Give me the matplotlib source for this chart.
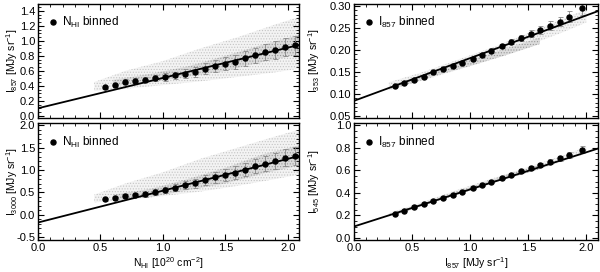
import numpy as np
import matplotlib
matplotlib.use('Agg')
import matplotlib.pyplot as plt
from matplotlib.ticker import MultipleLocator

plt.rcParams['font.family'] = ['Liberation Sans', 'DejaVu Sans']
plt.rcParams['font.size'] = 7
plt.rcParams['mathtext.fontset'] = 'custom'
plt.rcParams['mathtext.rm'] = 'Liberation Sans'
plt.rcParams['mathtext.it'] = 'Liberation Sans'
plt.rcParams['hatch.linewidth'] = 0.5

# --- binned points, N_HI panels ---
nh_bins = [0.54, 0.62, 0.70, 0.78, 0.86, 0.94, 1.02, 1.10, 1.18, 1.26,
           1.34, 1.42, 1.50, 1.58, 1.66, 1.74, 1.82, 1.90, 1.98, 2.06]
i857_nh = [0.38, 0.41, 0.455, 0.47, 0.48, 0.50, 0.52, 0.54, 0.56, 0.585,
           0.63, 0.66, 0.695, 0.72, 0.77, 0.81, 0.85, 0.885, 0.925, 0.94]
i857_nh_err = [0.02, 0.02, 0.03, 0.03, 0.035, 0.04, 0.05, 0.05, 0.06, 0.065,
               0.07, 0.08, 0.085, 0.09, 0.10, 0.10, 0.11, 0.12, 0.12, 0.13]
i3000_nh = [0.35, 0.37, 0.42, 0.44, 0.46, 0.51, 0.56, 0.61, 0.66, 0.71,
            0.785, 0.835, 0.885, 0.94, 1.01, 1.085, 1.14, 1.205, 1.27, 1.31]
i3000_nh_err = [0.03, 0.03, 0.04, 0.05, 0.05, 0.06, 0.07, 0.08, 0.09, 0.10,
                0.11, 0.12, 0.13, 0.14, 0.15, 0.16, 0.17, 0.18, 0.19, 0.20]

# --- binned points, I857 panels ---
i857_bins = [0.35, 0.43, 0.52, 0.60, 0.68, 0.77, 0.85, 0.93, 1.02, 1.10,
             1.18, 1.27, 1.35, 1.44, 1.52, 1.60, 1.69, 1.77, 1.85, 1.96]
i353_857 = [0.117, 0.124, 0.132, 0.139, 0.149, 0.156, 0.164, 0.171, 0.180, 0.188,
            0.198, 0.208, 0.218, 0.227, 0.236, 0.245, 0.255, 0.264, 0.275, 0.294]
i353_857_err = [0.002, 0.002, 0.002, 0.002, 0.003, 0.003, 0.003, 0.003, 0.004, 0.004,
                0.005, 0.005, 0.006, 0.007, 0.008, 0.009, 0.010, 0.011, 0.012, 0.014]
i545_857 = [0.211, 0.24, 0.269, 0.297, 0.326, 0.351, 0.38, 0.409, 0.44, 0.471,
            0.50, 0.529, 0.557, 0.591, 0.62, 0.649, 0.677, 0.706, 0.734, 0.783]
i545_857_err = [0.005, 0.005, 0.005, 0.006, 0.006, 0.007, 0.007, 0.008, 0.008, 0.009,
                0.010, 0.011, 0.012, 0.014, 0.015, 0.017, 0.019, 0.021, 0.024, 0.03]

# --- linear fits (intercept, slope) ---
fit_857_nh = (0.10, 0.405)
fit_3000_nh = (-0.17, 0.71)
fit_353_857 = (0.084, 0.097)
fit_545_857 = (0.10, 0.33)

# --- pixel cloud envelopes: outer (sparse) and inner (dense) ---
cloud_x_nh = [0.45, 0.70, 1.00, 1.30, 1.60, 1.90, 2.09]
cloud_857_lo = [0.33, 0.36, 0.41, 0.46, 0.52, 0.58, 0.63]
cloud_857_hi = [0.45, 0.60, 0.73, 0.90, 1.05, 1.22, 1.32]
cloud_3000_lo = [0.28, 0.33, 0.42, 0.52, 0.65, 0.80, 0.90]
cloud_3000_hi = [0.45, 0.70, 0.95, 1.25, 1.50, 1.75, 1.90]
core_x_nh = [0.60, 0.90, 1.20, 1.50, 1.80, 2.09]
core_857_lo = [0.40, 0.45, 0.52, 0.60, 0.72, 0.82]
core_857_hi = [0.48, 0.56, 0.66, 0.80, 0.95, 1.08]
core_3000_lo = [0.33, 0.40, 0.55, 0.70, 0.92, 1.10]
core_3000_hi = [0.45, 0.58, 0.80, 1.05, 1.35, 1.55]

cloud_x_857 = [0.30, 0.60, 0.90, 1.20, 1.50, 1.80, 2.00]
cloud_353_lo = [0.108, 0.131, 0.155, 0.181, 0.210, 0.240, 0.262]
cloud_353_hi = [0.126, 0.150, 0.178, 0.206, 0.238, 0.270, 0.292]
cloud_545_lo = [0.19, 0.29, 0.39, 0.49, 0.58, 0.68, 0.75]
cloud_545_hi = [0.22, 0.32, 0.43, 0.53, 0.63, 0.73, 0.81]
core_x_857 = [0.35, 0.70, 1.00, 1.30, 1.60]
core_353_lo = [0.113, 0.141, 0.163, 0.187, 0.213]
core_353_hi = [0.122, 0.153, 0.177, 0.202, 0.228]
core_545_lo = [0.200, 0.320, 0.420, 0.520, 0.610]
core_545_hi = [0.225, 0.345, 0.450, 0.555, 0.645]

fig = plt.figure(figsize=(6.0, 2.72), dpi=100)
W, H = 600.0, 272.0


def make_ax(x0, x1, y0, y1):
    return fig.add_axes([x0 / W, 1 - y1 / H, (x1 - x0) / W, (y1 - y0) / H])


ax_tl = make_ax(38, 299, 3.5, 118)
ax_bl = make_ax(38, 299, 123, 240)
ax_tr = make_ax(354, 598, 3.5, 118)
ax_br = make_ax(354, 598, 123, 240)

panels = [
    (ax_tl, nh_bins, i857_nh, i857_nh_err, fit_857_nh,
     (cloud_x_nh, cloud_857_lo, cloud_857_hi), (core_x_nh, core_857_lo, core_857_hi),
     (0, 2.09), (-0.03, 1.5), 0.2, 0.05, r'I$_{857}$ [MJy sr$^{-1}$]', r'N$_{\rm HI}$ binned', -0.07),
    (ax_bl, nh_bins, i3000_nh, i3000_nh_err, fit_3000_nh,
     (cloud_x_nh, cloud_3000_lo, cloud_3000_hi), (core_x_nh, core_3000_lo, core_3000_hi),
     (0, 2.09), (-0.56, 2.05), 0.5, 0.1, r'I$_{3000}$ [MJy sr$^{-1}$]', r'N$_{\rm HI}$ binned', -0.07),
    (ax_tr, i857_bins, i353_857, i353_857_err, fit_353_857,
     (cloud_x_857, cloud_353_lo, cloud_353_hi), (core_x_857, core_353_lo, core_353_hi),
     (0, 2.1), (0.045, 0.305), 0.05, 0.01, r'I$_{353}$ [MJy sr$^{-1}$]', r'I$_{857}$ binned', -0.13),
    (ax_br, i857_bins, i545_857, i545_857_err, fit_545_857,
     (cloud_x_857, cloud_545_lo, cloud_545_hi), (core_x_857, core_545_lo, core_545_hi),
     (0, 2.1), (-0.02, 1.02), 0.2, 0.05, r'I$_{545}$ [MJy sr$^{-1}$]', r'I$_{857}$ binned', -0.13),
]

for ax, xb, yb, eb, fit, outer, inner, xl, yl, ymaj, ymin, ylab, leg, labx in panels:
    ax.fill_between(outer[0], outer[1], outer[2], facecolor='#f3f3f3', edgecolor='#c4c4c4',
                    hatch='......', linewidth=0, zorder=1)
    ax.fill_between(inner[0], inner[1], inner[2], facecolor='#dcdcdc', edgecolor='#9a9a9a',
                    hatch='......', linewidth=0, zorder=1)
    xx = np.array(xl)
    ax.plot(xx, fit[0] + fit[1] * xx, color='black', lw=1.3, zorder=3)
    ax.errorbar(xb, yb, yerr=eb, fmt='none', ecolor='#888888', elinewidth=0.6,
                capsize=1.8, capthick=0.6, zorder=2)
    ax.plot(xb, yb, 'o', color='black', ms=3.6, zorder=4, label=leg)
    ax.set_xlim(*xl)
    ax.set_ylim(*yl)
    ax.xaxis.set_major_locator(MultipleLocator(0.5))
    ax.xaxis.set_minor_locator(MultipleLocator(0.1))
    ax.yaxis.set_major_locator(MultipleLocator(ymaj))
    ax.yaxis.set_minor_locator(MultipleLocator(ymin))
    ax.tick_params(which='both', direction='in', top=True, right=True, pad=2, labelsize=8)
    ax.tick_params(which='major', length=4, width=0.8)
    ax.tick_params(which='minor', length=2, width=0.6)
    for s in ax.spines.values():
        s.set_linewidth(1.0)
    ax.set_ylabel(ylab, fontsize=7.5)
    ax.yaxis.set_label_coords(labx, 0.5)
    ax.legend(loc='upper left', frameon=False, handlelength=0.6, handletextpad=0.4,
              borderaxespad=0.6, fontsize=8.5)

for ax in (ax_tl, ax_tr):
    ax.tick_params(labelbottom=False)

ax_tl.yaxis.set_major_formatter(plt.FormatStrFormatter('%.1f'))
ax_bl.yaxis.set_major_formatter(plt.FormatStrFormatter('%.1f'))
ax_tr.yaxis.set_major_formatter(plt.FormatStrFormatter('%.2f'))
ax_br.yaxis.set_major_formatter(plt.FormatStrFormatter('%.1f'))
for ax in (ax_bl, ax_br):
    ax.xaxis.set_major_formatter(plt.FormatStrFormatter('%.1f'))

ax_bl.set_xlabel(r'N$_{\rm HI}$ [10$^{20}$ cm$^{-2}$]', fontsize=7.5, labelpad=2)
ax_br.set_xlabel(r'I$_{857}$ [MJy sr$^{-1}$]', fontsize=7.5, labelpad=2)

fig.savefig('out.png', dpi=100)
